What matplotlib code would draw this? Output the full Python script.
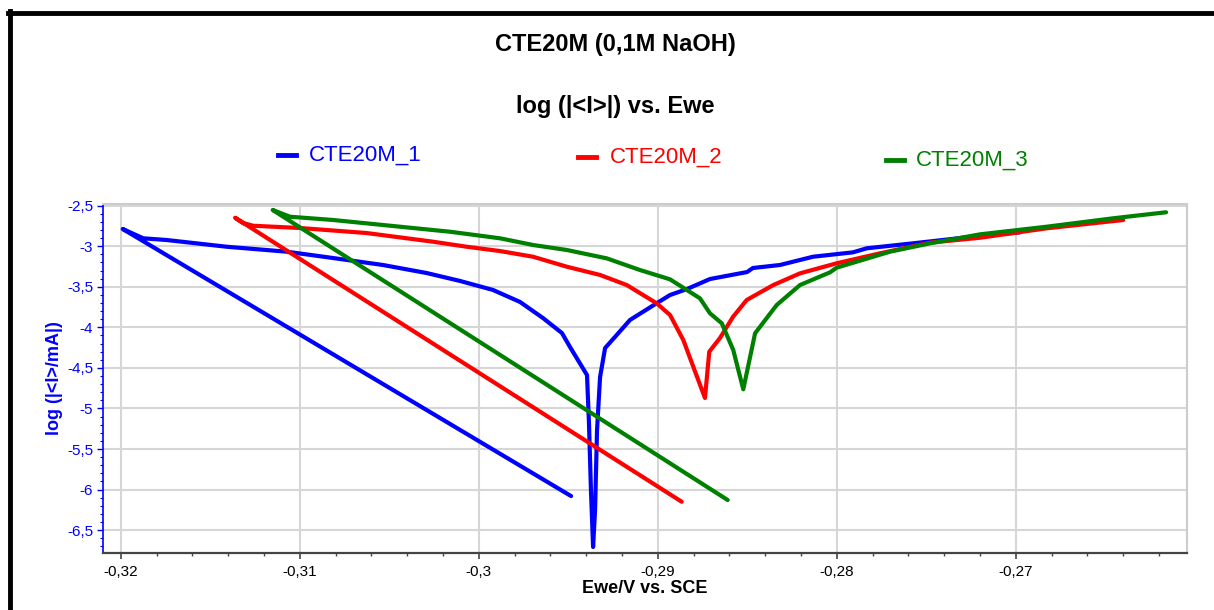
import matplotlib
matplotlib.use("Agg")
import matplotlib.pyplot as plt
from matplotlib.lines import Line2D
from matplotlib.ticker import MultipleLocator, FuncFormatter

plt.rcParams['font.family'] = ['Liberation Sans', 'DejaVu Sans']

# polarisation curves, Ewe (V vs SCE) and log(|I|/mA)
ewe_1 = [-0.29484, -0.31989, -0.31874, -0.31743, -0.31408, -0.31073, -0.30814, -0.30535,
         -0.30291, -0.30104, -0.29920, -0.29769, -0.29641, -0.29535, -0.29490, -0.29395,
         -0.29384, -0.29373, -0.29361, -0.29350, -0.29339, -0.29322, -0.29294, -0.29239,
         -0.29155, -0.29004, -0.28931, -0.28836, -0.28708, -0.28501, -0.28468, -0.28317,
         -0.28132, -0.27909, -0.27832, -0.27574, -0.27294, -0.26976]
logi_1 = [-6.080, -2.787, -2.902, -2.923, -3.006, -3.067, -3.145, -3.231,
          -3.330, -3.428, -3.539, -3.687, -3.885, -4.070, -4.242, -4.588,
          -5.179, -6.006, -6.708, -6.252, -5.266, -4.612, -4.255, -4.119,
          -3.909, -3.700, -3.601, -3.527, -3.404, -3.318, -3.268, -3.231,
          -3.129, -3.075, -3.025, -2.964, -2.895, -2.828]

ewe_2 = [-0.28866, -0.31361, -0.31317, -0.31261, -0.30998, -0.30626, -0.30255, -0.30067,
         -0.29881, -0.29697, -0.29508, -0.29322, -0.29173, -0.29006, -0.28931, -0.28857,
         -0.28736, -0.28712, -0.28652, -0.28579, -0.28503, -0.28354, -0.28205, -0.28000,
         -0.27758, -0.27479, -0.27199, -0.26827, -0.26399]
logi_2 = [-6.150, -2.648, -2.713, -2.747, -2.775, -2.837, -2.944, -3.006,
          -3.059, -3.129, -3.252, -3.354, -3.478, -3.703, -3.848, -4.156,
          -4.871, -4.300, -4.131, -3.869, -3.663, -3.478, -3.334, -3.210,
          -3.087, -2.956, -2.895, -2.779, -2.676]

ewe_3 = [-0.28609, -0.31151, -0.31054, -0.30814, -0.30440, -0.30160, -0.29881, -0.29695,
         -0.29508, -0.29285, -0.29099, -0.28931, -0.28764, -0.28708, -0.28642, -0.28578,
         -0.28522, -0.28456, -0.28335, -0.28205, -0.28037, -0.28000, -0.27702, -0.27479,
         -0.27199, -0.26827, -0.26455, -0.26160]
logi_3 = [-6.129, -2.553, -2.636, -2.676, -2.759, -2.821, -2.902, -2.985,
          -3.046, -3.149, -3.293, -3.408, -3.642, -3.827, -3.950, -4.279,
          -4.764, -4.073, -3.724, -3.478, -3.321, -3.264, -3.067, -2.964,
          -2.853, -2.759, -2.655, -2.581]

labels = ["CTE20M_1", "CTE20M_2", "CTE20M_3"]
colors = ["#0000ff", "#ff0000", "#008000"]

W, H = 1214, 610
fig = plt.figure(figsize=(W / 100, H / 100), dpi=100)
ax = fig.add_axes([103 / W, 1 - 553 / H, (1187 - 103) / W, (553 - 204) / H])

for xs, ys, c in zip([ewe_1, ewe_2, ewe_3], [logi_1, logi_2, logi_3], colors):
    ax.plot(xs, ys, color=c, lw=3, solid_joinstyle='round', solid_capstyle='round')

ax.set_xlim(-0.32099, -0.26043)
ax.set_ylim(-6.782, -2.479)

ax.xaxis.set_major_locator(MultipleLocator(0.01))
ax.xaxis.set_minor_locator(MultipleLocator(0.002))
ax.yaxis.set_major_locator(MultipleLocator(0.5))
ax.yaxis.set_minor_locator(MultipleLocator(0.1))

comma = FuncFormatter(lambda v, p: f"{round(v, 4):g}".replace(".", ","))
ax.xaxis.set_major_formatter(comma)
ax.yaxis.set_major_formatter(comma)

ax.grid(which='major', color='#d6d6d6', lw=1.5)
ax.set_axisbelow(True)

ax.spines['left'].set_color('#0000ff')
ax.spines['left'].set_linewidth(1.2)
ax.spines['bottom'].set_color('#444444')
ax.spines['bottom'].set_linewidth(1.6)
for s in ('top', 'right'):
    ax.spines[s].set_color('#cccccc')
    ax.spines[s].set_linewidth(1.5)

ax.tick_params(axis='x', which='major', direction='out', length=4.5, width=1.2,
               color='#444444', labelsize=11, labelcolor='black', pad=4)
ax.tick_params(axis='x', which='minor', direction='out', length=2.5, width=1.0, color='#444444')
ax.tick_params(axis='y', which='major', direction='out', length=4, width=1.0,
               color='#0000ff', labelsize=11, labelcolor='#0000ff', pad=3)
ax.tick_params(axis='y', which='minor', direction='out', length=2, width=0.8, color='#0000ff')

ax.set_xlabel("Ewe/V vs. SCE", fontsize=13, fontweight='bold', labelpad=1)
ax.set_ylabel("log (|<I>/mA|)", fontsize=13, fontweight='bold', color='#0000ff', labelpad=3)

fig.text(615 / W, 1 - 44 / H, "CTE20M (0,1M NaOH)", ha='center', va='center',
         fontsize=17, fontweight='bold')
fig.text(615 / W, 1 - 106 / H, "log (|<I>|) vs. Ewe", ha='center', va='center',
         fontsize=17, fontweight='bold')

# legend row across the top
legend_pos = [(278, 309, 155), (578, 610, 157), (886, 916, 160)]
for (hx, tx, ty), lab, c in zip(legend_pos, labels, colors):
    fig.add_artist(Line2D([hx / W, (hx + 18) / W], [1 - ty / H] * 2,
                          transform=fig.transFigure, color=c, lw=3.5))
    fig.text(tx / W, 1 - ty / H, lab, ha='left', va='center', fontsize=16, color=c)

# frame edges
fig.add_artist(Line2D([8 / W, 1], [1 - 12.5 / H] * 2, transform=fig.transFigure,
                      color='black', lw=3.5))
fig.add_artist(Line2D([10 / W, 10 / W], [0, 1 - 10.5 / H], transform=fig.transFigure,
                      color='black', lw=3.5))

fig.savefig("out.png", dpi=100)
